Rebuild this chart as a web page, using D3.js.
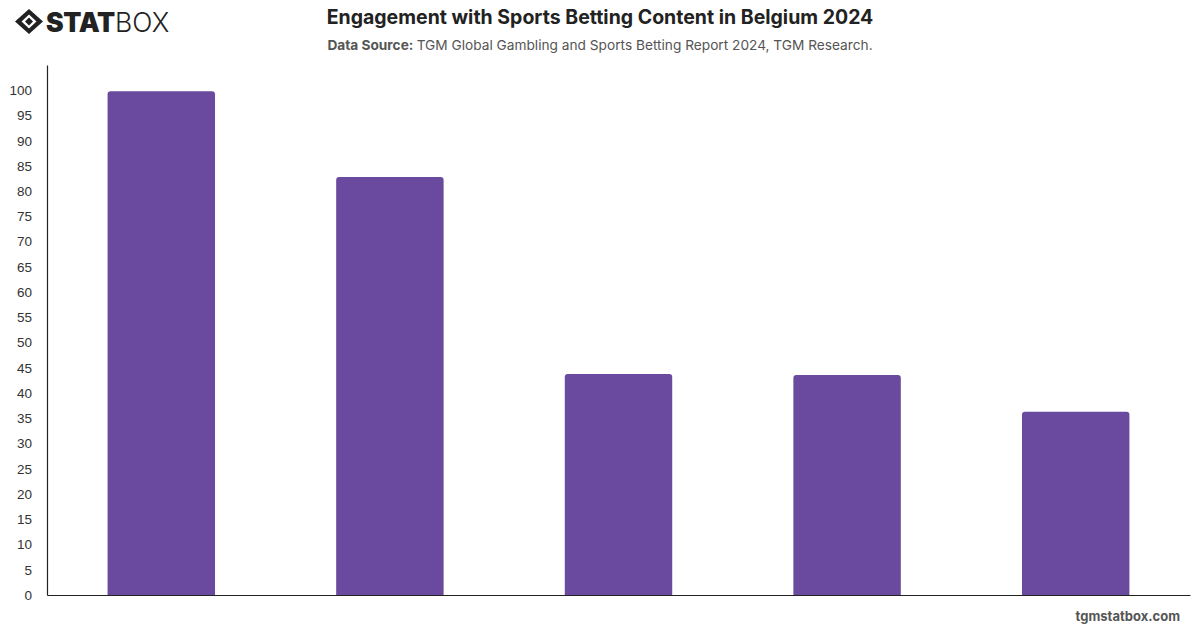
<!DOCTYPE html>
<html>
<head>
<meta charset="utf-8">
<script src="https://cdn.jsdelivr.net/npm/d3@7"></script>
<style>
  body { margin: 0; background: #fff; }
  svg { display: block; font-family: Inter, "Noto Sans", sans-serif; }
</style>
</head>
<body>
<svg id="chart"></svg>
<script>
// data (category names are not shown on the chart)
var categories = ["Cat 1", "Cat 2", "Cat 3", "Cat 4", "Cat 5"];
var values = [99.8, 82.8, 43.8, 43.6, 36.3];
var yTicks = d3.range(0, 101, 5);

var width = 1200,
	height = 628,
	margin = {top: 65, right: 10, bottom: 33, left: 47};

var svg = d3.select("#chart")
	.attr("width", width)
	.attr("height", height);

var x = d3.scaleBand()
	.domain(categories)
	.range([margin.left, width - margin.right])
	.paddingInner(0.53)
	.paddingOuter(0.265);

var y = d3.scaleLinear()
	.domain([0, 105])
	.range([height - margin.bottom, margin.top]);

// bars with rounded top corners
var r = 3;
function barPath(d, i) {
	var x0 = x(categories[i]), w = x.bandwidth(),
		y0 = y(d), y1 = y(0);
	return "M" + x0 + "," + y1 +
		"V" + (y0 + r) +
		"Q" + x0 + "," + y0 + " " + (x0 + r) + "," + y0 +
		"H" + (x0 + w - r) +
		"Q" + (x0 + w) + "," + y0 + " " + (x0 + w) + "," + (y0 + r) +
		"V" + y1 + "Z";
}

svg.append("g")
	.attr("class", "bars")
	.selectAll("path")
	.data(values)
	.enter()
	.append("path")
	.attr("d", barPath)
	.attr("fill", "#6a4a9e");

// y axis
var yAxis = svg.append("g")
	.attr("transform", "translate(" + margin.left + ",0)")
	.call(d3.axisLeft(y).tickValues(yTicks).tickSize(0).tickPadding(15));
yAxis.select(".domain").attr("stroke", "#222").attr("stroke-width", 1.2);
yAxis.selectAll("text")
	.attr("fill", "#333")
	.style("font-size", "13.5px");

// x axis (no labels)
var xAxis = svg.append("g")
	.attr("transform", "translate(0," + y(0) + ")")
	.call(d3.axisBottom(x).tickSize(0).tickFormat(""));
xAxis.select(".domain").attr("stroke", "#222").attr("stroke-width", 1.2);

// titles
svg.append("text")
	.attr("x", 600).attr("y", 24)
	.attr("text-anchor", "middle")
	.attr("fill", "#222")
	.style("font-size", "19.5px")
	.style("font-weight", "700")
	.text("Engagement with Sports Betting Content in Belgium 2024");

var sub = svg.append("text")
	.attr("x", 600).attr("y", 50)
	.attr("text-anchor", "middle")
	.attr("fill", "#555")
	.style("font-size", "13.7px");
sub.append("tspan").style("font-weight", "700").text("Data Source: ");
sub.append("tspan").text("TGM Global Gambling and Sports Betting Report 2024, TGM Research.");

// footer
svg.append("text")
	.attr("x", 1180).attr("y", 621)
	.attr("text-anchor", "end")
	.attr("fill", "#555")
	.style("font-size", "13px")
	.style("font-weight", "700")
	.text("tgmstatbox.com");

// logo
var logo = svg.append("g").attr("transform", "translate(15,9)");
logo.append("path")
	.attr("d", "M14,0 L28,12.5 L14,25 L0,12.5 Z M14,5.5 L6.5,12.5 L14,19.5 L21.5,12.5 Z")
	.attr("fill", "#222")
	.attr("fill-rule", "evenodd");
logo.append("path")
	.attr("d", "M14,8.5 L18,12.5 L14,16.5 L10,12.5 Z")
	.attr("fill", "#222");
var lt = logo.append("text")
	.attr("x", 31).attr("y", 23)
	.attr("fill", "#222")
	.style("font-size", "26.5px");
lt.append("tspan").style("font-weight", "900").style("letter-spacing", "-0.3px").text("STAT");
lt.append("tspan").style("font-weight", "300").text("BOX");
</script>
</body>
</html>
